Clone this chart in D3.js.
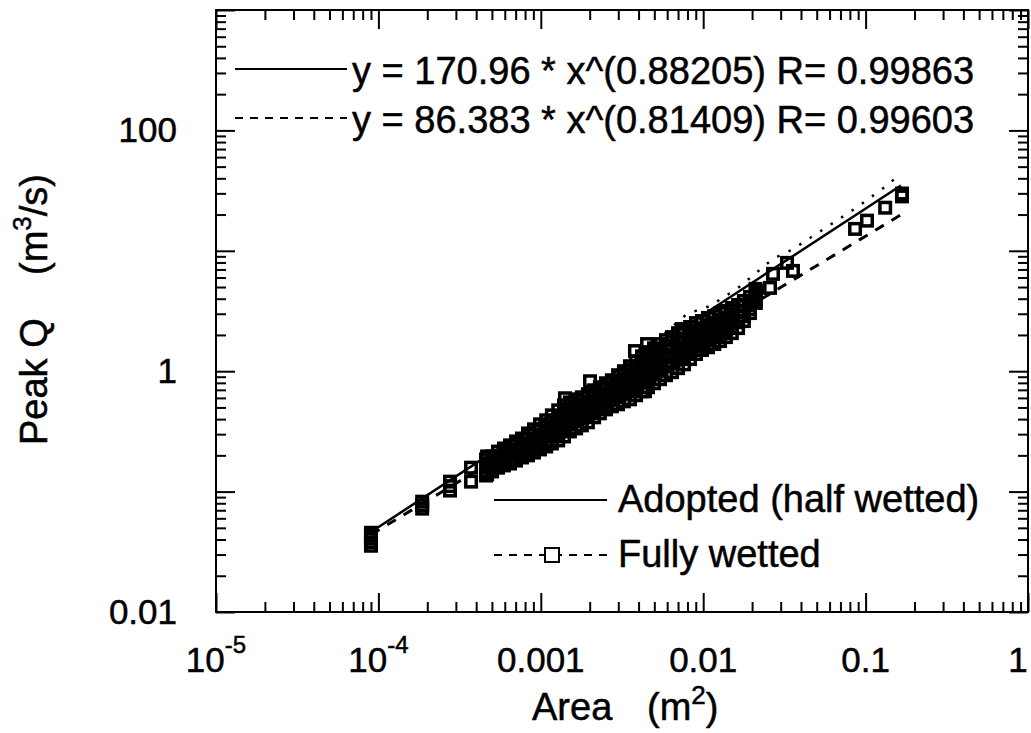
<!DOCTYPE html>
<html>
<head>
<meta charset="utf-8">
<script src="https://cdn.jsdelivr.net/npm/d3@7"></script>
<style>
  body { margin: 0; background: #fff; }
  text { font-family: "Liberation Sans", Arial, Helvetica, sans-serif; fill: #000; stroke: #000; stroke-width: 0.5px; }
</style>
</head>
<body>
<div id="my_dataviz"></div>
<script>
// ---- data ----
// sparse points at the small-area end
const leftArea = [9.0e-5, 9.0e-5, 9.0e-5, 9.0e-5, 9.0e-5, 1.86e-4, 1.86e-4, 1.86e-4, 2.76e-4, 2.76e-4, 2.76e-4,
                  3.72e-4, 3.72e-4, 4.67e-4, 4.67e-4];
const leftQ    = [0.0455, 0.0430, 0.0406, 0.0380, 0.0355, 0.0825, 0.0770, 0.0722, 0.121, 0.111, 0.102,
                  0.158, 0.121, 0.196, 0.139];

// dense band: one column per area, five Q rows from upper edge to lower edge
const bandArea = [4.60e-4, 5.01e-4, 5.45e-4, 5.93e-4, 6.46e-4, 7.04e-4, 7.66e-4, 8.34e-4, 9.08e-4, 9.89e-4,
                  1.08e-3, 1.17e-3, 1.28e-3, 1.39e-3, 1.51e-3, 1.65e-3, 1.79e-3, 1.95e-3, 2.13e-3, 2.31e-3,
                  2.52e-3, 2.74e-3, 2.99e-3, 3.25e-3, 3.54e-3, 3.86e-3, 4.20e-3, 4.57e-3, 4.98e-3, 5.42e-3,
                  5.90e-3, 6.43e-3, 7.00e-3, 7.62e-3, 8.30e-3, 9.03e-3, 9.83e-3, 1.07e-2, 1.17e-2, 1.27e-2,
                  1.38e-2, 1.50e-2, 1.64e-2, 1.78e-2, 1.94e-2, 2.11e-2];
const bandTop  = [0.185, 0.196, 0.215, 0.228, 0.242, 0.261, 0.276, 0.304, 0.329, 0.362,
                  0.391, 0.430, 0.473, 0.521, 0.551, 0.584, 0.607, 0.643, 0.694, 0.736,
                  0.794, 0.841, 0.926, 1.00, 1.10, 1.21, 1.33, 1.44, 1.55, 1.68,
                  1.81, 1.92, 2.07, 2.20, 2.33, 2.51, 2.61, 2.77, 2.87, 3.04,
                  3.16, 3.35, 3.55, 3.83, 4.14, 4.64];
const bandUpper = [0.171, 0.182, 0.199, 0.210, 0.222, 0.239, 0.252, 0.273, 0.295, 0.321,
                  0.345, 0.376, 0.410, 0.449, 0.480, 0.508, 0.531, 0.562, 0.610, 0.649,
                  0.701, 0.743, 0.806, 0.866, 0.939, 1.03, 1.13, 1.22, 1.31, 1.42,
                  1.53, 1.62, 1.75, 1.86, 2.00, 2.17, 2.27, 2.41, 2.51, 2.66,
                  2.79, 2.97, 3.18, 3.48, 3.83, 4.38];
const bandMid  = [0.158, 0.169, 0.185, 0.194, 0.203, 0.218, 0.230, 0.246, 0.264, 0.285,
                  0.304, 0.329, 0.355, 0.387, 0.418, 0.442, 0.464, 0.492, 0.536, 0.573,
                  0.619, 0.656, 0.701, 0.750, 0.802, 0.874, 0.953, 1.03, 1.11, 1.20,
                  1.30, 1.37, 1.48, 1.58, 1.71, 1.87, 1.98, 2.09, 2.20, 2.33,
                  2.47, 2.63, 2.85, 3.16, 3.55, 4.14];
const bandLower = [0.147, 0.158, 0.171, 0.179, 0.186, 0.199, 0.210, 0.222, 0.236, 0.253,
                  0.268, 0.287, 0.307, 0.333, 0.363, 0.385, 0.406, 0.430, 0.471, 0.506,
                  0.546, 0.579, 0.610, 0.649, 0.684, 0.743, 0.806, 0.871, 0.939, 1.01,
                  1.10, 1.16, 1.25, 1.34, 1.47, 1.61, 1.72, 1.82, 1.92, 2.04,
                  2.18, 2.33, 2.55, 2.87, 3.29, 3.91];
const bandLow  = [0.136, 0.147, 0.158, 0.165, 0.171, 0.181, 0.192, 0.200, 0.211, 0.224,
                  0.237, 0.251, 0.266, 0.287, 0.316, 0.335, 0.355, 0.376, 0.414, 0.447,
                  0.482, 0.511, 0.531, 0.562, 0.584, 0.631, 0.681, 0.736, 0.794, 0.858,
                  0.926, 0.981, 1.06, 1.14, 1.26, 1.39, 1.50, 1.58, 1.68, 1.78,
                  1.92, 2.07, 2.28, 2.61, 3.04, 3.69];

// isolated squares around / above the band
const outArea = [1.41e-3, 2.01e-3, 3.80e-3, 4.51e-3, 4.38e-3, 7.40e-3, 8.65e-3, 9.55e-3,
                 0.0210, 0.0258, 0.0269, 0.0328, 0.0357, 0.0861, 0.102, 0.132, 0.1675, 0.1675];
const outQ    = [0.596, 0.825, 1.47, 1.68, 0.681, 2.24, 1.71, 1.68,
                 4.83, 4.92, 6.43, 7.94, 6.81, 15.2, 17.8, 22.8, 29.9, 28.3];

// dotted curve along the upper edge
const dotArea = [2.86e-3, 5.82e-3, 7.94e-3, 1.10e-2, 1.64e-2, 0.0269, 0.0352, 0.0861, 0.130, 0.1655];
const dotQ    = [1.00, 2.07, 2.99, 3.48, 4.92, 8.58, 10.2, 22.4, 33.5, 43.8];

// fitted power laws (straight on log-log), end points
const fitArea   = [9.0e-5, 0.165];
const fitSolidQ = [0.0462, 34.9];   // y = 170.96 * x^(0.88205)
const fitDashQ  = [0.0439, 19.9];   // y = 86.383 * x^(0.81409)

const fitLabels = ["y = 170.96 * x^(0.88205) R= 0.99863", "y = 86.383 * x^(0.81409) R= 0.99603"];
const seriesLabels = ["Adopted (half wetted)", "Fully wetted"];

const xMajor = [1e-5, 1e-4, 1e-3, 1e-2, 1e-1, 1];
const yMajor = [0.01, 0.1, 1, 10, 100, 1000];
const xTickLabels = [["10", "-5"], ["10", "-4"], ["0.001"], ["0.01"], ["0.1"], ["1"]];
const yLabelVals = [0.01, 1, 100];
const yTickLabels = ["0.01", "1", "100"];

// ---- layout ----
const margin = {top: 10, right: 3, bottom: 121, left: 216},
    width = 1031 - margin.left - margin.right,
    height = 733 - margin.top - margin.bottom;

let svg = d3.select("#my_dataviz")
    .append("svg")
    .attr("width", 1031)
    .attr("height", 733);

let group = svg.append("g")
    .attr("transform", "translate(" + margin.left + "," + margin.top + ")");

const x = d3.scaleLog().domain([1e-5, 1]).range([0, width]);
const y = d3.scaleLog().domain([0.01, 1000]).range([height, 0]);

const isMajor = v => Math.abs(Math.log10(v) - Math.round(Math.log10(v))) < 1e-6;
const xMinor = x.ticks().filter(v => !isMajor(v));
const yMinor = y.ticks().filter(v => !isMajor(v));

// inward ticks on all four sides
function ticks(axis, tx, ty) {
    let g = group.append("g")
        .attr("transform", "translate(" + tx + "," + ty + ")")
        .call(axis);
    g.select(".domain").remove();
    g.selectAll("line").attr("stroke", "#000").attr("stroke-width", 2);
    g.selectAll("text").remove();
}
ticks(d3.axisBottom(x).tickValues(xMinor).tickSize(-10), 0, height);
ticks(d3.axisBottom(x).tickValues(xMajor).tickSize(-19), 0, height);
ticks(d3.axisTop(x).tickValues(xMinor).tickSize(-10), 0, 0);
ticks(d3.axisTop(x).tickValues(xMajor).tickSize(-19), 0, 0);
ticks(d3.axisLeft(y).tickValues(yMinor).tickSize(-10), 0, 0);
ticks(d3.axisLeft(y).tickValues(yMajor).tickSize(-19), 0, 0);
ticks(d3.axisRight(y).tickValues(yMinor).tickSize(-10), width, 0);
ticks(d3.axisRight(y).tickValues(yMajor).tickSize(-19), width, 0);

// frame
group.append("rect")
    .attr("width", width).attr("height", height)
    .attr("fill", "none").attr("stroke", "#000").attr("stroke-width", 2);

// tick labels (the last one is pulled in so it stays on the page)
xMajor.forEach(function(v, i) {
    let t = group.append("text")
        .attr("x", Math.min(x(v), width - 10)).attr("y", height + 60)
        .attr("text-anchor", "middle")
        .style("font-size", "35px");
    t.append("tspan").text(xTickLabels[i][0]);
    if (xTickLabels[i][1]) {
        t.append("tspan").attr("dy", -19).style("font-size", "24px").text(xTickLabels[i][1]);
    }
});
yLabelVals.forEach(function(v, i) {
    group.append("text")
        .attr("x", -39).attr("y", y(v) + 12)
        .attr("text-anchor", "end")
        .style("font-size", "35px")
        .text(yTickLabels[i]);
});

// axis titles
let xt = svg.append("text").attr("x", 532).attr("y", 720).style("font-size", "38px");
xt.append("tspan").text("Area");
xt.append("tspan").attr("x", 647).text("(m");
xt.append("tspan").attr("dy", -16).style("font-size", "26px").text("2");
xt.append("tspan").attr("dy", 16).text(")");

let yt = svg.append("text").attr("transform", "translate(47,445) rotate(-90)").style("font-size", "38px");
yt.append("tspan").text("Peak Q");
yt.append("tspan").attr("x", 170).text("(m");
yt.append("tspan").attr("dy", -16).style("font-size", "26px").text("3");
yt.append("tspan").attr("dy", 16).text("/s)");

// data squares
let pts = [];
leftArea.forEach((a, i) => pts.push([a, leftQ[i]]));
bandArea.forEach(function(a, i) {
    [bandTop, bandUpper, bandMid, bandLower, bandLow].forEach(row => pts.push([a, row[i]]));
});
outArea.forEach((a, i) => pts.push([a, outQ[i]]));

group.selectAll(".pt")
    .data(pts)
    .enter().append("rect")
    .attr("class", "pt")
    .attr("x", d => x(d[0]) - 5.25)
    .attr("y", d => y(d[1]) - 5.25)
    .attr("width", 10.5).attr("height", 10.5)
    .attr("fill", "none").attr("stroke", "#000").attr("stroke-width", 3.5);

// lines
const line = d3.line().x(d => x(d[0])).y(d => y(d[1]));

group.append("path")
    .datum(dotArea.map((a, i) => [a, dotQ[i]]))
    .attr("d", line)
    .attr("fill", "none").attr("stroke", "#000").attr("stroke-width", 2.5)
    .attr("stroke-dasharray", "2.5,10");

group.append("path")
    .datum(fitArea.map((a, i) => [a, fitSolidQ[i]]))
    .attr("d", line)
    .attr("fill", "none").attr("stroke", "#000").attr("stroke-width", 2.5);

group.append("path")
    .datum(fitArea.map((a, i) => [a, fitDashQ[i]]))
    .attr("d", line)
    .attr("fill", "none").attr("stroke", "#000").attr("stroke-width", 3)
    .attr("stroke-dasharray", "10,9");

// top legend (fits)
[69, 118].forEach(function(ly, i) {
    svg.append("line")
        .attr("x1", 235).attr("x2", 347).attr("y1", ly).attr("y2", ly)
        .attr("stroke", "#000").attr("stroke-width", 2)
        .attr("stroke-dasharray", i ? "8,7" : null);
    svg.append("text")
        .attr("x", 352).attr("y", ly + 15)
        .style("font-size", "38px")
        .text(fitLabels[i]);
});

// bottom legend (series)
[500, 555].forEach(function(ly, i) {
    svg.append("line")
        .attr("x1", 494).attr("x2", 607).attr("y1", ly).attr("y2", ly)
        .attr("stroke", "#000").attr("stroke-width", 2)
        .attr("stroke-dasharray", i ? "8,7" : null);
    if (i) {
        svg.append("rect")
            .attr("x", 545).attr("y", ly - 7).attr("width", 14).attr("height", 14)
            .attr("fill", "#fff").attr("stroke", "#000").attr("stroke-width", 2);
    }
    svg.append("text")
        .attr("x", 618).attr("y", ly + 12)
        .style("font-size", "38px")
        .text(seriesLabels[i]);
});
</script>
</body>
</html>
